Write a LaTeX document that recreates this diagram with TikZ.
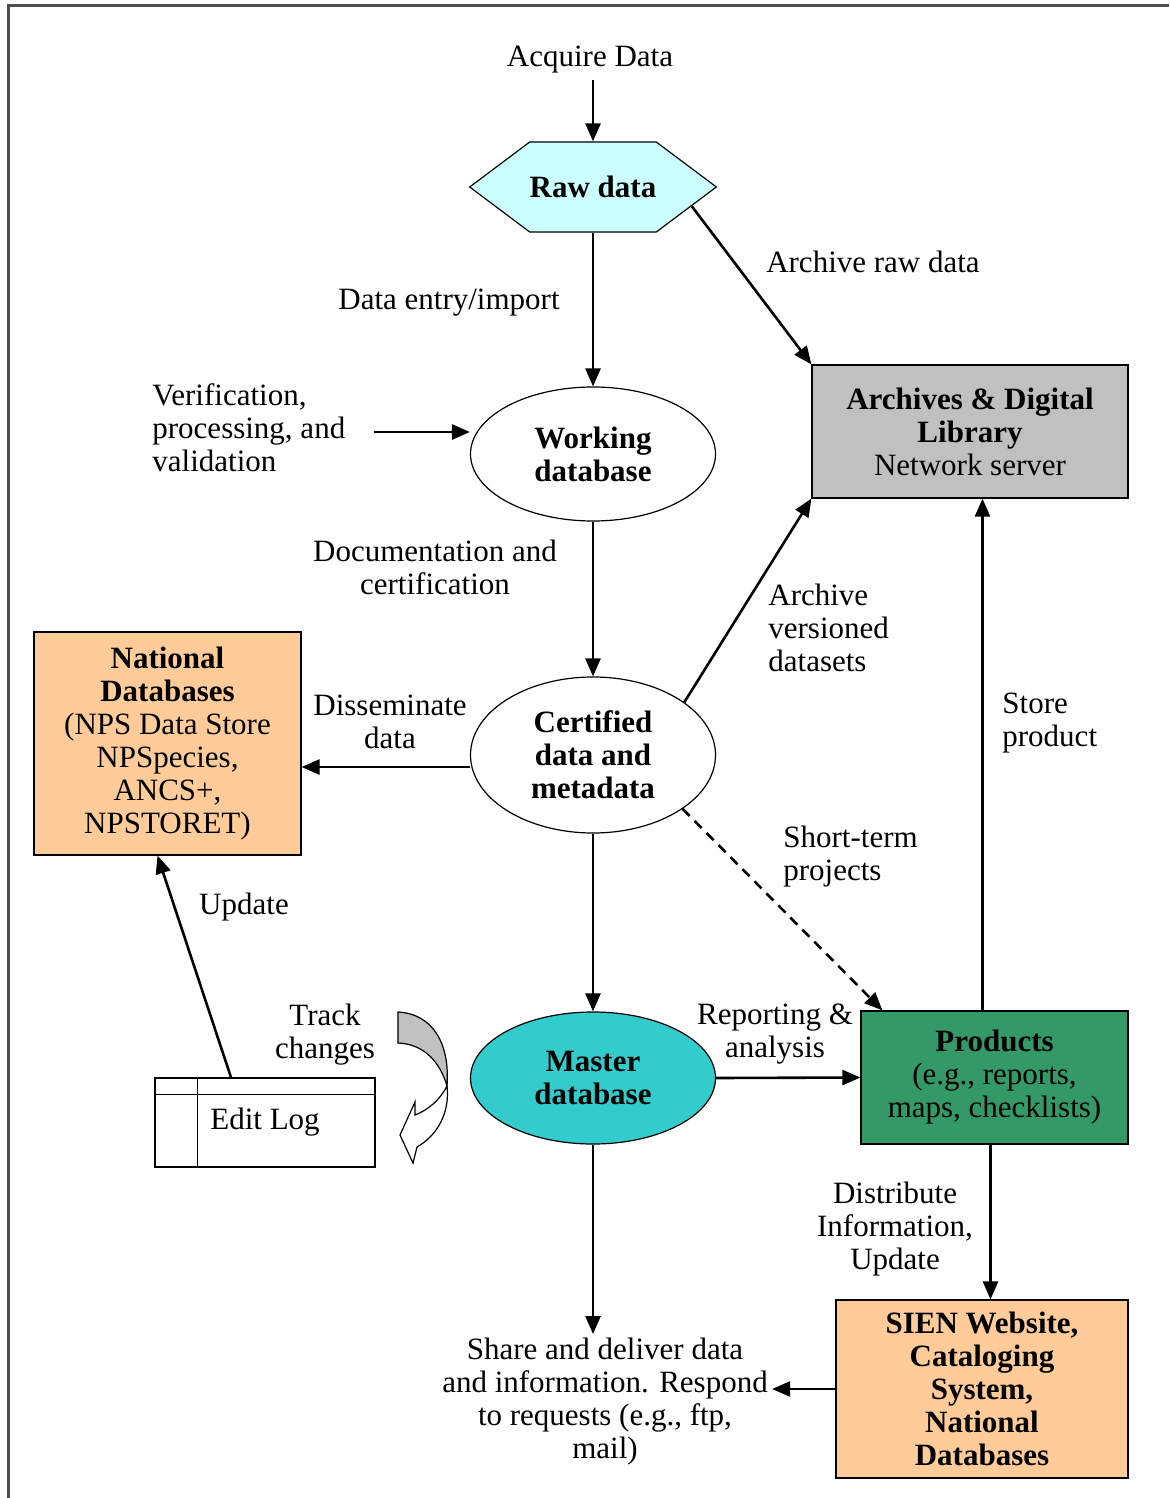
\documentclass[tikz,border=0pt]{standalone}
\usepackage{fontspec}
\setmainfont{Liberation Serif}
\usetikzlibrary{arrows.meta,shapes.geometric,shapes.symbols}

\definecolor{rawcyan}{HTML}{CCFFFF}
\definecolor{mastercyan}{HTML}{33CCCC}
\definecolor{archgray}{HTML}{C0C0C0}
\definecolor{peach}{HTML}{FFCC99}
\definecolor{prodgreen}{HTML}{339966}
\newcommand{\figfont}{\fontsize{15.5}{16.5}\selectfont}

\begin{document}
\begin{tikzpicture}[x=0.5pt, y=-0.5pt,
  every node/.style={font=\figfont, align=center},
  flow/.style={-{Triangle[length=9pt,width=7.5pt]}, line width=1.3pt},
  db/.style={ellipse, draw, line width=0.6pt, minimum width=122.5pt, inner sep=0pt, font=\bfseries\figfont},
  box/.style={rectangle, draw, line width=0.6pt, inner sep=2pt},
  note/.style={inner sep=0pt}]

\useasboundingbox (0,0) rectangle (1169,1498);

% Frame along the top and left
\draw[line width=1.5pt, black!70] (8,1498) -- (8,6) -- (1169,6);

% Main column
\node[note] (acq) at (590,60) {Acquire Data};
\node[signal, signal to=east and west, signal pointer angle=73.7, draw, fill=rawcyan, line width=0.6pt,
      inner xsep=0pt, minimum width=121.5pt, minimum height=45pt, font=\bfseries\figfont] (raw) at (593,187) {Raw data};
\node[db, minimum height=67pt] (work) at (593,454) {Working\\database};
\node[db, minimum height=78pt] (cert) at (593,755) {Certified\\data and\\metadata};
\node[db, minimum height=66pt, fill=mastercyan] (mast) at (593,1078) {Master\\database};
\node[note, inner sep=2pt] (share) at (605,1402) {Share and deliver data\\and information. Respond\\to requests (e.g., ftp,\\mail)};

% Boxes at the sides
\node[box, fill=archgray, minimum width=158pt, minimum height=66.5pt] (arch) at (970,431.5)
  {\textbf{Archives \& Digital}\\\textbf{Library}\\Network server};
\node[box, fill=peach, minimum width=133.5pt, minimum height=111.5pt] (nat) at (167.5,743.5)
  {\textbf{National}\\\textbf{Databases}\\(NPS Data Store\\NPSpecies,\\ANCS+,\\NPSTORET)};
\node[box, fill=prodgreen, minimum width=133.5pt, minimum height=66.5pt] (prod) at (994.5,1077.5)
  {\textbf{Products}\\(e.g., reports,\\maps, checklists)};
\node[box, fill=peach, minimum width=146pt, minimum height=89pt, font=\bfseries\figfont] (sien) at (982,1389)
  {SIEN Website,\\Cataloging\\System,\\National\\Databases};

% Edit log table
\node[box, minimum width=110pt, minimum height=44.5pt] (elog) at (265,1122.5) {Edit Log};
\draw[line width=0.6pt] ([xshift=21.5pt]elog.north west) -- ([xshift=21.5pt]elog.south west);
\draw[line width=0.6pt] ([yshift=-8.5pt]elog.north west) -- ([yshift=-8.5pt]elog.north east);

% Track changes arrow
\filldraw[fill=archgray, line width=0.6pt] (398,1012) .. controls (434,1014) and (450,1045) .. (447,1086)
  .. controls (440,1062) and (424,1044) .. (398,1043) -- cycle;
\filldraw[fill=white, line width=0.6pt] (447,1086) .. controls (440,1100) and (428,1110) .. (415,1115)
  -- (415,1102) -- (400,1135) -- (413,1163) -- (417,1147)
  .. controls (438,1135) and (450,1112) .. (447,1086) -- cycle;

% Labels
\node[note] (lentry) at (449,303) {Data entry/import};
\node[note] (lraw) at (873,262) {Archive raw data};
\node[note, anchor=west, align=left] (verif) at (152,428) {Verification,\\processing, and\\validation};
\node[note] (ldoc) at (435,567) {Documentation and\\certification};
\node[note, anchor=west, align=left] (lvers) at (768,628) {Archive\\versioned\\datasets};
\node[note] (ldiss) at (390,722) {Disseminate\\data};
\node[note, anchor=west, align=left] (lshort) at (783,856.5) {Short-term\\projects};
\node[note, anchor=west, align=left] (lstore) at (1002,723.5) {Store\\product};
\node[note] (lupd) at (244,907) {Update};
\node[note] (ltrack) at (325,1035) {Track\\changes};
\node[note] (lrep) at (775,1034) {Reporting \&\\analysis};
\node[note] (ldist) at (895,1229) {Distribute\\Information,\\Update};

% Connectors
\draw[flow] ([yshift=-3pt]acq.south -| raw.north) -- (raw.north);
\draw[flow] (raw.south) -- (work.north);
\draw[flow] (raw.-11) -- (arch.north west);
\draw[flow] ([yshift=-2pt]verif.east) ++(14pt,0) -- ([yshift=-2pt]verif.east -| work.west);
\draw[flow] (work.south) -- (cert.north);
\draw[flow] (cert.30) -- (arch.south west);
\draw[flow] ([yshift=-6pt]cert.west) -- ([yshift=-6pt]cert.west -| nat.east);
\draw[flow] (cert.south) -- (mast.north);
\draw[flow, dash pattern=on 5pt off 3.5pt] (cert.-31) -- ([xshift=11pt]prod.north west);
\draw[flow] (mast.east) -- (prod.west);
\draw[flow] ([xshift=-6pt]prod.north) -- ([xshift=-6pt]prod.north |- arch.south);
\draw[flow] ([xshift=-17pt]elog.north) -- ([xshift=-5pt]nat.south);
\draw[flow] (mast.south) -- (mast.south |- share.north);
\draw[flow] ([xshift=-2pt]prod.south) -- ([xshift=-2pt]prod.south |- sien.north);
\draw[flow] (sien.west) -- (sien.west -| share.east);

\end{tikzpicture}
\end{document}
